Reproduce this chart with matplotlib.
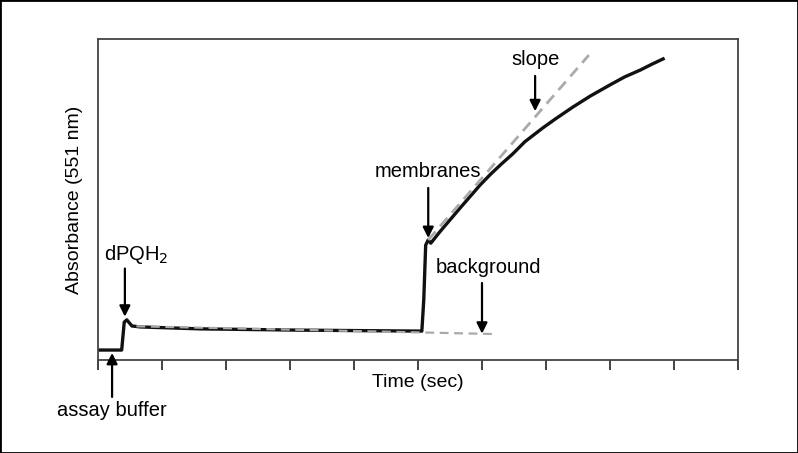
import matplotlib.pyplot as plt
from matplotlib.patches import Rectangle

plt.rcParams['font.family'] = ['Liberation Sans', 'DejaVu Sans']

# absorbance trace (time in arbitrary units, absorbance in arbitrary units)
trace_t = [0.0, 0.37, 0.41, 0.45, 0.53, 0.66, 1.59, 3.16, 5.06, 5.09, 5.12,
           5.16, 5.20, 5.34, 5.66, 5.97, 6.13, 6.30, 6.48, 6.67, 6.95, 7.14,
           7.42, 7.69, 8.0, 8.23, 8.47, 8.66, 8.83]
trace_a = [0.031, 0.031, 0.118, 0.125, 0.106, 0.103, 0.097, 0.093, 0.090, 0.187, 0.358,
           0.374, 0.364, 0.399, 0.474, 0.545, 0.578, 0.610, 0.642, 0.680, 0.723, 0.750,
           0.788, 0.822, 0.857, 0.882, 0.903, 0.922, 0.938]

# fitted lines
slope_t = [5.16, 7.67]
slope_a = [0.374, 0.950]
bg_t = [0.6, 6.17]
bg_a = [0.105, 0.081]

ticks = list(range(0, 11))

fig = plt.figure(figsize=(7.98, 4.53), dpi=100)
fig.patches.append(Rectangle((0, 0), 1, 1, transform=fig.transFigure,
                             fill=False, edgecolor='black', linewidth=2))
ax = fig.add_axes([98 / 798, 93 / 453, 640 / 798, 321 / 453])

ax.plot(bg_t, bg_a, color='#aaaaaa', lw=1.6, ls=(0, (4, 2.5)), zorder=3)
ax.plot(trace_t, trace_a, color='#111111', lw=2.4, zorder=2)
ax.plot(slope_t, slope_a, color='#aaaaaa', lw=2.0, ls=(0, (4, 2.5)), zorder=3)

ax.set_xlim(0, 10)
ax.set_ylim(0, 1)
ax.set_xticks(ticks)
ax.set_xticklabels([])
ax.set_yticks([])
ax.tick_params(axis='x', direction='out', length=7, width=1.2, color='#222222')
for s in ax.spines.values():
    s.set_color('#444444')
    s.set_linewidth(1.3)

ax.set_xlabel('Time (sec)', fontsize=14)
ax.xaxis.set_label_coords(0.5, -0.043)
ax.set_ylabel('Absorbance (551 nm)', fontsize=14, labelpad=11)

arrow = dict(arrowstyle='-|>', color='black', lw=1.6, mutation_scale=16,
             shrinkA=0, shrinkB=0)
fs = 14.5

def label(text, tx, ty, tail, tip, ax_x):
    ax.text(tx, ty, text, ha='center', va='center', fontsize=fs, clip_on=False)
    ax.annotate('', xy=(ax_x, tip), xytext=(ax_x, tail), arrowprops=arrow,
                annotation_clip=False)

label('dPQH$_2$', 0.6, 0.33, 0.285, 0.135, 0.42)
label('assay buffer', 0.22, -0.158, -0.115, 0.022, 0.22)
label('membranes', 5.16, 0.586, 0.536, 0.38, 5.16)
label('background', 6.1, 0.287, 0.24, 0.082, 6.0)
label('slope', 6.83, 0.935, 0.885, 0.775, 6.83)

fig.savefig('out.png', dpi=100)
